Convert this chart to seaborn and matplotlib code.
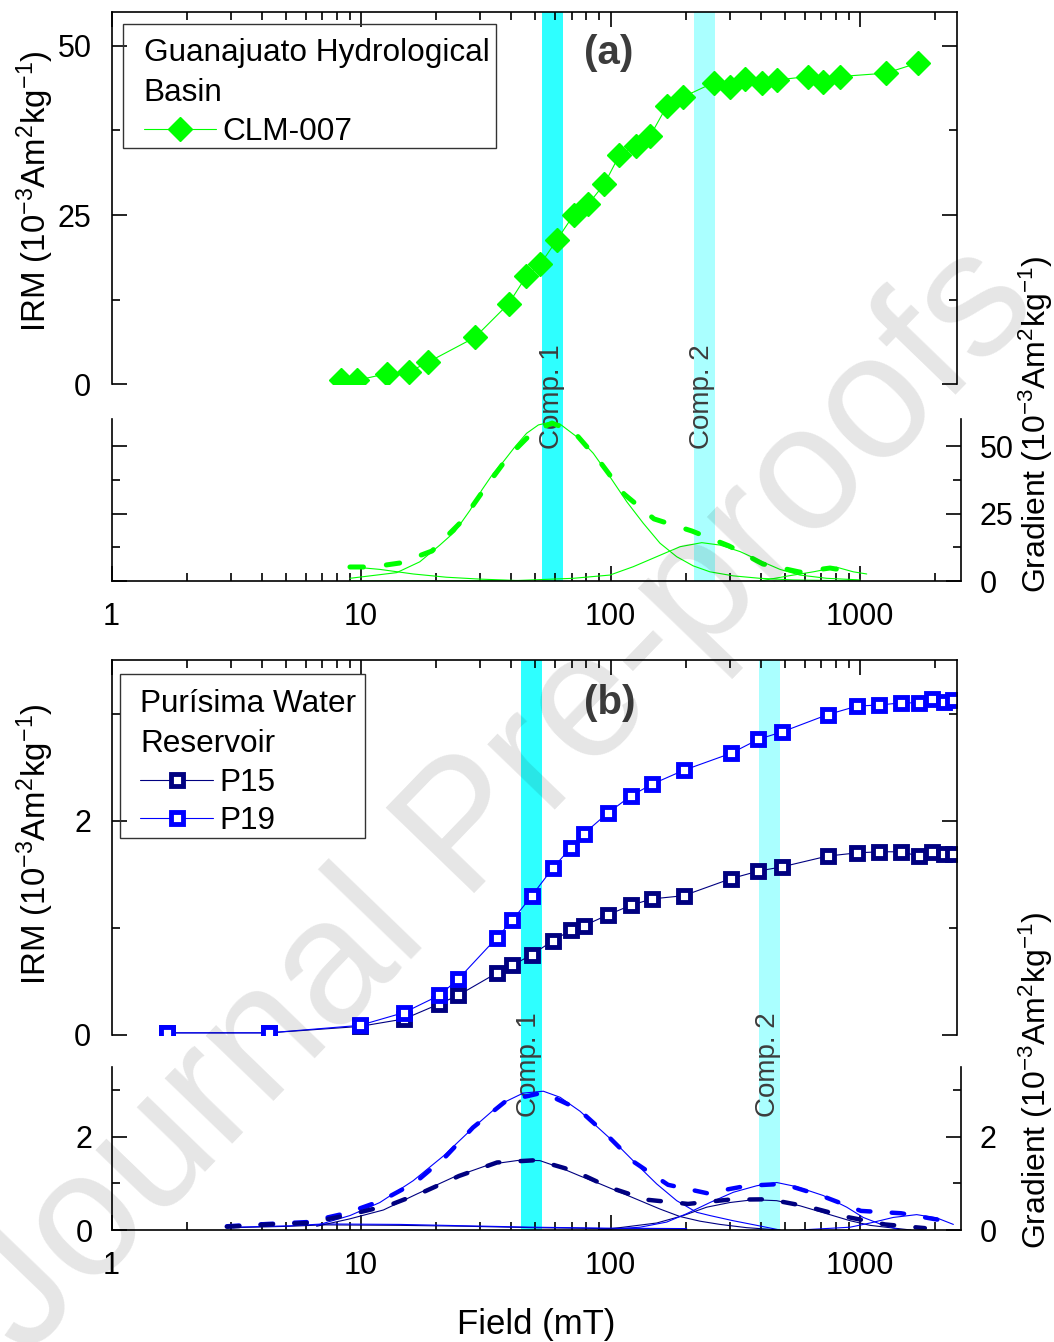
"""
IRM acquisition curves with coercivity gradient components.
(a) Guanajuato Hydrological Basin, (b) Purisima Water Reservoir.
"""

import matplotlib
matplotlib.use("Agg")
import matplotlib.pyplot as plt
import numpy as np
import seaborn as sns
from matplotlib.patches import Rectangle
from matplotlib.ticker import FixedLocator, FuncFormatter, LogLocator, NullFormatter

# ---------------- panel (a) data ----------------
clm_field = [8.35, 9.66, 12.7, 15.6, 18.5, 28.6, 39.1, 45.9, 52.4, 60.9, 71.3, 81.3,
             94.6, 108.6, 126.3, 144.5, 168.6, 195, 258.8, 299.9, 345.3, 404, 465.8,
             617.7, 711.5, 832.9, 1272, 1705]
clm_irm = [0.61, 0.61, 1.6, 1.85, 3.25, 6.94, 11.94, 15.94, 17.78, 21.31, 25.08, 26.59,
           29.62, 33.88, 35.14, 36.75, 41.18, 42.44, 44.55, 43.94, 45.05, 44.55, 44.96,
           45.47, 44.71, 45.47, 45.97, 47.47]

# measured gradient (dashed)
clm_grad_field = [9.03, 11.07, 14.33, 19.26, 25.4, 31.4, 38.8, 48.9, 58.3, 71.4, 90.8,
                  113.3, 149.4, 212.2, 298.5, 408, 574, 758, 955]
clm_grad = [5.19, 5.19, 6.67, 11.11, 22.2, 34.4, 45.9, 55.2, 58.5, 55.2, 44.1, 32.2,
            23.0, 18.5, 13.0, 6.3, 3.3, 4.8, 3.3]

# fitted components (thin)
clm_c0_field = [9.03, 11.9, 16.2, 22.0, 30.0, 47.6]
clm_c0 = [5.3, 4.3, 2.6, 1.4, 0.7, 0.0]
clm_c1_field = [9.03, 13.9, 17.2, 20.7, 23.8, 27.4, 30.5, 33.9, 37.2, 41.4, 46.1, 51.4,
                57.2, 62.8, 75.5, 85.3, 99.5, 116.1, 135.3, 157.9, 184.2, 214.6, 250.4,
                310.8, 396.5, 538.6, 1000]
clm_c1 = [1.0, 3.1, 7.1, 13.3, 18.3, 26.3, 33.7, 39.9, 44.2, 49.7, 54.7, 57.8, 58.8,
          58.1, 52.5, 47.3, 38.6, 29.4, 21.4, 14.0, 9.0, 5.6, 3.4, 1.9, 1.0, 0.4, 0.0]
clm_c2_field = [9.03, 40, 71, 99.5, 123.4, 153.1, 190, 232.2, 274.7, 330.5, 397.3, 477.9,
                574.4, 735.5, 1000]
clm_c2 = [0.0, 0.1, 1.0, 2.2, 5.3, 9.0, 12.7, 14.2, 13.3, 10.9, 7.5, 4.3, 2.2, 1.0, 0.4]
clm_c3_field = [396.5, 524.8, 650, 806.5, 940, 1064]
clm_c3 = [0.0, 2.0, 3.4, 5.1, 3.4, 2.6]

# ---------------- panel (b) data ----------------
p_field = [1.67, 4.27, 9.9, 14.9, 20.6, 24.5, 35.1, 40.4, 48.4, 58.8, 69.5, 78.3, 97.3,
           120.5, 146.4, 196.2, 304.7, 391.6, 488.5, 741.3, 974.5, 1195, 1466, 1716,
           1946, 2172, 2350]
p15_irm = [0.02, 0.02, 0.08, 0.15, 0.29, 0.37, 0.58, 0.65, 0.75, 0.88, 0.98, 1.02, 1.12,
           1.21, 1.27, 1.30, 1.46, 1.53, 1.57, 1.67, 1.70, 1.71, 1.71, 1.67, 1.71, 1.69,
           1.69]
p19_irm = [0.02, 0.02, 0.09, 0.21, 0.37, 0.52, 0.91, 1.07, 1.30, 1.56, 1.75, 1.88, 2.07,
           2.23, 2.34, 2.47, 2.63, 2.76, 2.83, 2.99, 3.07, 3.08, 3.10, 3.10, 3.14, 3.11,
           3.13]

p19_grad_field = [2.9, 4.24, 6.08, 8.71, 12.1, 16.5, 21.7, 28.1, 38.1, 53.6, 74.1, 95.9,
                  124.2, 170.1, 243.8, 352.7, 491.3, 697.6, 1009, 1459, 2111, 2294]
p19_grad = [0.08, 0.13, 0.17, 0.36, 0.63, 1.02, 1.56, 2.20, 2.77, 2.95, 2.60, 2.06, 1.46,
            0.97, 0.79, 0.95, 0.99, 0.74, 0.41, 0.36, 0.21, 0.15]
p15_grad_field = [2.9, 4.24, 6.08, 8.71, 13.1, 17.7, 24.7, 35.1, 50.7, 71.4, 99.5, 140.0,
                  204.6, 296, 431.7, 619, 887, 1259, 1820]
p15_grad = [0.07, 0.12, 0.15, 0.31, 0.54, 0.81, 1.16, 1.45, 1.50, 1.27, 0.91, 0.65, 0.56,
            0.65, 0.66, 0.50, 0.28, 0.12, 0.04]

p_c0_field = [3.07, 5.19, 7.06, 14.3, 26.5, 49, 96.6, 202]
p19_c0 = [0.06, 0.09, 0.13, 0.12, 0.09, 0.06, 0.04, 0.03]
p15_c0 = [0.05, 0.08, 0.11, 0.10, 0.08, 0.05, 0.03, 0.02]
p19_c1_field = [6.64, 9.03, 11.9, 16.2, 21.4, 28.2, 36.1, 44.7, 53.8, 62.8, 75.5, 90.8,
                109.2, 131.3, 153.1, 184.2, 221.5, 250.4, 309.7, 385.5, 478]
p19_c1 = [0.10, 0.31, 0.59, 1.06, 1.59, 2.20, 2.70, 2.94, 2.98, 2.85, 2.55, 2.16, 1.77,
          1.34, 0.99, 0.63, 0.38, 0.31, 0.20, 0.10, 0.0]
p15_c1_field = [6.64, 9.03, 12.3, 16.7, 23.4, 32.9, 43.4, 52.1, 62.8, 75.5, 90.8, 109.2,
                131.3, 157.9, 189.7, 228, 274.7, 351.5, 478]
p15_c1 = [0.08, 0.24, 0.43, 0.77, 1.13, 1.41, 1.50, 1.49, 1.34, 1.16, 0.99, 0.81, 0.63,
          0.45, 0.29, 0.19, 0.12, 0.05, 0.0]
p19_c2_field = [90.8, 131.3, 168, 201.9, 250.4, 310.6, 385.5, 463.5, 557.3, 712.5, 884.7,
                1030, 1203, 1446]
p19_c2 = [0.0, 0.06, 0.17, 0.35, 0.59, 0.81, 0.95, 1.02, 0.93, 0.74, 0.49, 0.27, 0.13, 0.0]
p15_c2_field = [90.8, 112.5, 153.1, 195.8, 243, 301, 373.6, 463.5, 574.4, 735, 912, 1097,
                1318, 1600]
p15_c2 = [0.0, 0.06, 0.15, 0.31, 0.49, 0.59, 0.65, 0.63, 0.52, 0.35, 0.20, 0.10, 0.05, 0.0]
p19_c3_field = [574, 912, 1097, 1360, 1687, 2030, 2367]
p19_c3 = [0.0, 0.06, 0.15, 0.27, 0.33, 0.26, 0.12]

# component bands (mT)
bands_a = [(53.2, 64.3), (216.9, 261.8)]
bands_b = [(43.6, 53.2), (395.2, 475.8)]
comp_labels = ["Comp. 1", "Comp. 2"]
comp_text_a = [58.3, 232.6]
comp_text_b = [47.1, 427.6]

GREEN = "#00ff00"
NAVY = "#000080"
BLUE = "#0000ff"
BAND_COLORS = ["#2effff", "#aaffff"]
GREY = "#3c3c3c"

W, H = 1054, 1342
X0 = 111.5          # left edge of every axes (px)
DECADE = 249.5      # px per decade on the field axis

sns.set_theme(style="ticks")
plt.rcParams["font.family"] = ["Liberation Sans", "DejaVu Sans"]
plt.rcParams.update({
    "mathtext.fontset": "custom",
    "mathtext.rm": "Liberation Sans",
    "mathtext.it": "Liberation Sans:italic",
    "mathtext.bf": "Liberation Sans:bold",
    "axes.linewidth": 1.2,
    "axes.edgecolor": "black",
    "axes.facecolor": "none",
    "text.color": "black",
    "xtick.color": "black",
    "ytick.color": "black",
    "xtick.labelsize": 22,
    "ytick.labelsize": 22,
})

fig = plt.figure(figsize=(W / 100, H / 100), dpi=100)
fig.patch.set_facecolor("white")


def place(l, t, r, b):
    return fig.add_axes([l / W, 1 - b / H, (r - l) / W, (b - t) / H])


def field_axis(ax, right_px):
    ax.set_xscale("log")
    ax.set_xlim(1, 10 ** ((right_px - X0) / DECADE))
    ax.xaxis.set_major_locator(LogLocator(base=10))
    ax.xaxis.set_minor_locator(LogLocator(base=10, subs=np.arange(2, 10), numticks=30))
    ax.xaxis.set_major_formatter(FuncFormatter(lambda v, p: f"{v:g}"))
    ax.xaxis.set_minor_formatter(NullFormatter())


def y_ticks(ax, major, minor, labels):
    ax.yaxis.set_major_locator(FixedLocator(major))
    ax.yaxis.set_minor_locator(FixedLocator(minor))
    ax.set_yticklabels(labels)


def line(ax, x, y, color, lw=0.8, **kw):
    sns.lineplot(x=x, y=y, ax=ax, color=color, linewidth=lw, estimator=None,
                 sort=False, legend=False, **kw)


def dashed(ax, x, y, color, lw, pattern):
    line(ax, x, y, color, lw=lw, linestyle=(0, pattern), dash_capstyle="round")


def tick_style(ax):
    ax.tick_params(which="major", length=11, width=1.2)
    ax.tick_params(which="minor", length=5.5, width=1.2)
    ax.tick_params(axis="y", which="both", direction="in", left=True, right=True, pad=14.5)
    ax.tick_params(axis="x", which="both", direction="in", pad=15)


def build_panel(top, irm_bottom, grad_top, bottom):
    band_ax = place(X0, top, 961, bottom)
    irm_ax = place(X0, top, 957, irm_bottom)
    grad_ax = place(X0, grad_top, 961, bottom)
    for ax, r in ((band_ax, 961), (irm_ax, 957), (grad_ax, 961)):
        field_axis(ax, r)
    band_ax.set_ylim(0, 1)
    band_ax.axis("off")

    tick_style(irm_ax)
    irm_ax.spines["bottom"].set_visible(False)
    irm_ax.xaxis.set_ticks_position("top")
    irm_ax.tick_params(axis="x", which="both", top=True, bottom=False,
                       labeltop=False, labelbottom=False)
    irm_ax.tick_params(axis="y", labelleft=True, labelright=False)

    tick_style(grad_ax)
    grad_ax.spines["top"].set_visible(False)
    grad_ax.tick_params(axis="x", which="both", top=False, bottom=True, labelbottom=True)
    grad_ax.tick_params(axis="y", which="both", right=True, labelright=True, pad=13.5)
    return band_ax, irm_ax, grad_ax


def draw_bands(ax, bands, xs, ytext):
    for (lo, hi), c, x, lab in zip(bands, BAND_COLORS, xs, comp_labels):
        ax.axvspan(lo, hi, color=c, lw=0, zorder=0)
        ax.text(x, ytext, lab, transform=ax.get_xaxis_transform(), rotation=90,
                ha="center", va="center", fontsize=20, color=GREY)


# ================= panel (a) =================
band_a, irm_a, grad_a = build_panel(12, 384.4, 419, 581)
draw_bands(band_a, bands_a, comp_text_a, (581 - 397) / 569)

irm_a.set_ylim(0, 55)
y_ticks(irm_a, [0, 25, 50], [12.5, 37.5], ["0", "25", "50"])
line(irm_a, clm_field, clm_irm, GREEN, lw=0.8, marker="D", markersize=12,
     markerfacecolor=GREEN, markeredgecolor=GREEN, markeredgewidth=1, label="CLM-007")

grad_a.set_ylim(0, 60)
y_ticks(grad_a, [0, 25, 50], [12.5, 37.5], ["0", "25", "50"])
grad_a.tick_params(axis="y", labelleft=False)
for fx, fy in ((clm_c0_field, clm_c0), (clm_c1_field, clm_c1),
               (clm_c2_field, clm_c2), (clm_c3_field, clm_c3)):
    line(grad_a, fx, fy, GREEN, lw=0.8)
dashed(grad_a, clm_grad_field, clm_grad, GREEN, 3.6, (2.7, 4.6))

# ================= panel (b) =================
band_b, irm_b, grad_b = build_panel(660, 1035, 1067, 1230)
draw_bands(band_b, bands_b, comp_text_b, (1230 - 1065) / 570)

irm_b.set_ylim(0, 3.5)
y_ticks(irm_b, [0, 2], [1, 3], ["0", "2"])
sq = dict(marker="s", markersize=9, markerfacecolor="white", markeredgewidth=3.5)
line(irm_b, p_field, p15_irm, NAVY, lw=0.8, markeredgecolor=NAVY, label="P15", **sq)
line(irm_b, p_field, p19_irm, BLUE, lw=0.8, markeredgecolor=BLUE, label="P19", **sq)

grad_b.set_ylim(0, 3.5)
y_ticks(grad_b, [0, 2], [1, 3], ["0", "2"])
grad_b.tick_params(axis="y", labelleft=True)
for fx, fy, c in ((p_c0_field, p15_c0, NAVY), (p_c0_field, p19_c0, BLUE),
                  (p15_c1_field, p15_c1, NAVY), (p19_c1_field, p19_c1, BLUE),
                  (p15_c2_field, p15_c2, NAVY), (p19_c2_field, p19_c2, BLUE),
                  (p19_c3_field, p19_c3, BLUE)):
    line(grad_b, fx, fy, c, lw=0.8)
dashed(grad_b, p19_grad_field, p19_grad, BLUE, 3.2, (2.8, 4.8))
dashed(grad_b, p15_grad_field, p15_grad, NAVY, 3.2, (2.8, 4.8))


# ================= legends =================
def legend(ax, title, anchor, frame):
    handles = [l for l in ax.get_lines() if not l.get_label().startswith("_")]
    leg = ax.legend(handles=handles, labels=[h.get_label() for h in handles],
                    title=title, alignment="left", loc="upper left",
                    bbox_to_anchor=(anchor[0] / W, 1 - anchor[1] / H),
                    bbox_transform=fig.transFigure, frameon=False, borderpad=0,
                    borderaxespad=0, fontsize=22.7, title_fontsize=22.7,
                    handlelength=2.3, handletextpad=0.21, labelspacing=0.27,
                    numpoints=1)
    leg.get_title().set_linespacing(1.45)
    (l, t), (r, b) = frame
    fig.add_artist(Rectangle((l / W, 1 - b / H), (r - l) / W, (b - t) / H,
                             transform=fig.transFigure, fill=False,
                             edgecolor="#333333", lw=1.0))


legend(irm_a, "Guanajuato Hydrological\nBasin", (143.7, 38), ((123.4, 23.6), (496, 148)))
legend(irm_b, "Purísima Water\nReservoir", (140.3, 689), ((120, 673.8), (365, 837.8)))

# ================= labels =================
irm_lab = r"IRM (10$^{-3}$Am$^{2}$kg$^{-1}$)"
grad_lab = r"Gradient (10$^{-3}$Am$^{2}$kg$^{-1}$)"
lab_kw = dict(rotation=90, rotation_mode="anchor", ha="center", va="baseline")
fig.text(45.6 / W, 1 - 191 / H, irm_lab, fontsize=23.8, **lab_kw)
fig.text(45.6 / W, 1 - 844 / H, irm_lab, fontsize=23.8, **lab_kw)
fig.text(1046 / W, 1 - 424 / H, grad_lab, fontsize=23, **lab_kw)
fig.text(1046 / W, 1 - 1080 / H, grad_lab, fontsize=23, **lab_kw)
fig.text(536 / W, 1 - 1334 / H, "Field (mT)", ha="center", va="baseline", fontsize=25)

fig.text(608.6 / W, 1 - 52.8 / H, "(a)", ha="center", va="center", fontsize=29,
         fontweight="bold", color=GREY)
fig.text(610 / W, 1 - 703 / H, "(b)", ha="center", va="center", fontsize=29,
         fontweight="bold", color=GREY)

# watermark
fig.text(500 / W, 1 - 800 / H, "Journal Pre-proofs", rotation=46, rotation_mode="anchor",
         ha="center", va="center", fontsize=128, color="black", alpha=0.1, zorder=10)

fig.savefig("out.png", dpi=100)
plt.close(fig)
